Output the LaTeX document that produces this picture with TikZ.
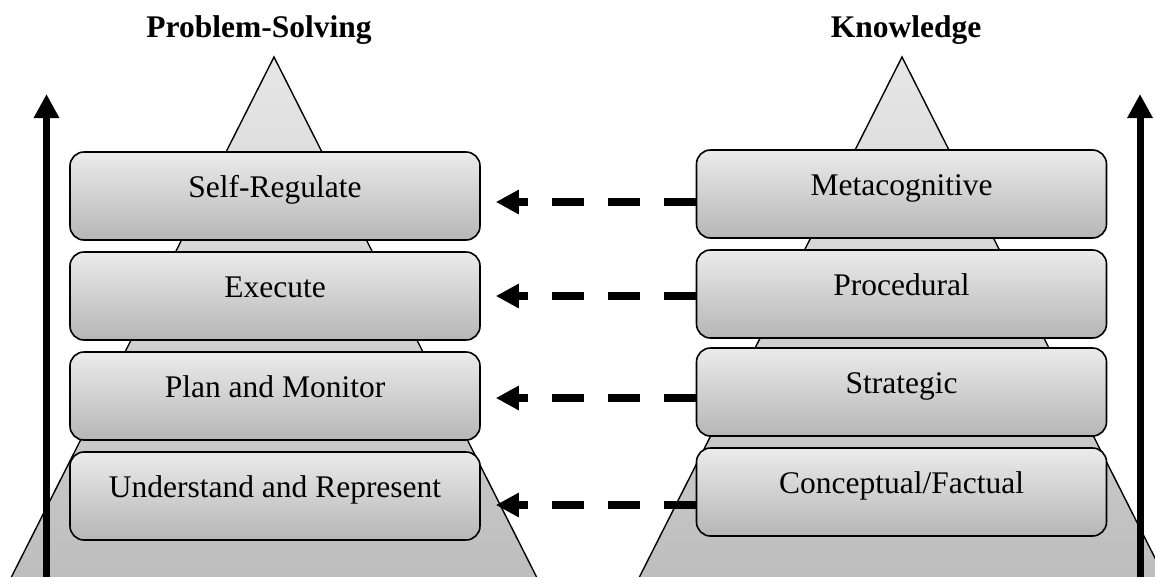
\documentclass[tikz,border=0pt]{standalone}
\usepackage{fontspec}
\setmainfont{Liberation Serif}
\usetikzlibrary{arrows.meta}
\definecolor{boxtop}{HTML}{EBEBEB}
\definecolor{boxbot}{HTML}{B6B6B6}
\definecolor{tritop}{HTML}{E6E6E6}
\definecolor{tribot}{HTML}{BCBCBC}
\begin{document}
\begin{tikzpicture}[x=1pt,y=-1pt,
  level/.style={draw=black, line width=1.6pt, rounded corners=14pt,
    top color=boxtop, bottom color=boxbot,
    minimum width=410pt, minimum height=88pt, inner sep=0pt,
    text height=2pt, text depth=0pt, font=\fontsize{31.5}{38}\selectfont},
  pyramid/.style={draw=black, line width=1.4pt, top color=tritop, bottom color=tribot},
  title/.style={font=\fontsize{31.5}{38}\selectfont\bfseries, anchor=base, inner sep=0pt},
  link/.style={line width=8pt, dash pattern=on 32pt off 24pt,
    -{Triangle[length=23pt,width=23pt]}},
  rise/.style={line width=7pt, -{Triangle[length=24pt,width=24pt]}}]
\useasboundingbox (0,0) rectangle (1155,576);
\clip (0,0) rectangle (1155,576);
% pyramids
\draw[pyramid] (274,57) -- (548.2,600) -- (-0.2,600) -- cycle;
\draw[pyramid] (902,57) -- (1176.2,600) -- (627.8,600) -- cycle;
% titles
\node[title] (pstitle) at (259,37) {Problem-Solving};
\node[title] (kntitle) at (906,37) {Knowledge};
% problem-solving levels
\node[level] (s1) at (275,196) {Self-Regulate};
\node[level] (s2) at (275,296) {Execute};
\node[level] (s3) at (275,396) {Plan and Monitor};
\node[level] (s4) at (275,496) {Understand and Represent};
% knowledge levels
\node[level] (m1) at (901.5,194) {Metacognitive};
\node[level] (m2) at (901.5,294) {Procedural};
\node[level] (m3) at (901.5,392) {Strategic};
\node[level] (m4) at (901.5,492) {Conceptual/Factual};
% links
\draw[link] ([yshift=-8pt]m1.west) -- ([xshift=15pt,yshift=-8pt]s1.east |- m1.west);
\draw[link] ([yshift=-2pt]m2.west) -- ([xshift=15pt,yshift=-2pt]s2.east |- m2.west);
\draw[link] ([yshift=-6pt]m3.west) -- ([xshift=15pt,yshift=-6pt]s3.east |- m3.west);
\draw[link] ([yshift=-13pt]m4.west) -- ([xshift=15pt,yshift=-13pt]s4.east |- m4.west);
% vertical arrows
\coordinate (lbase) at (46.5,590);
\coordinate (ltip) at (46.5,94);
\coordinate (rbase) at (1140,590);
\coordinate (rtip) at (1140,94);
\draw[rise] (lbase) -- (ltip);
\draw[rise] (rbase) -- (rtip);
\end{tikzpicture}
\end{document}
